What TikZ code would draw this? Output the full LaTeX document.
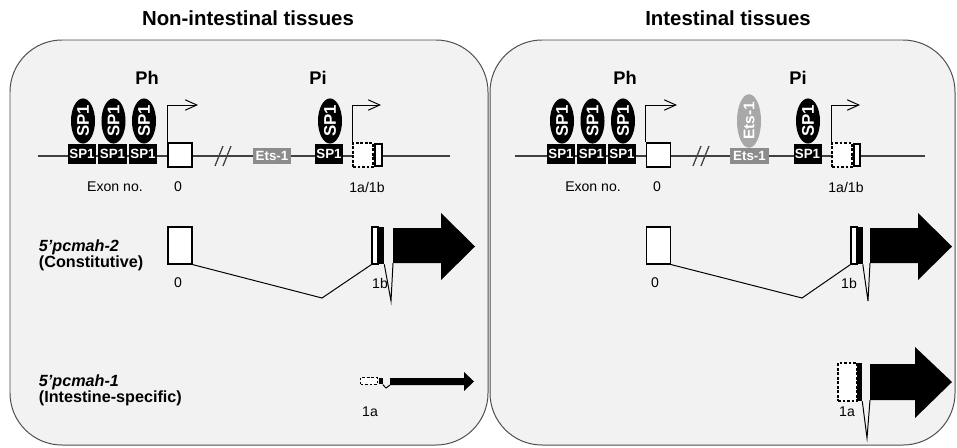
\documentclass[tikz,border=0pt]{standalone}
\usepackage{fontspec}
\setmainfont{Liberation Sans}
\usetikzlibrary{shapes.geometric,arrows.meta}
\definecolor{etsbox}{HTML}{8C8C8C}
\definecolor{etsfac}{HTML}{A8A8A8}
\tikzset{
  panel/.style={draw=black!70, fill=black!5, line width=0.7pt, rounded corners=1.3cm},
  title/.style={font=\fontsize{14.5}{17}\selectfont\bfseries},
  prom/.style={font=\fontsize{13}{15}\selectfont\bfseries},
  lbl/.style={font=\fontsize{10}{12}\selectfont},
  tname/.style={anchor=west, align=left, font=\fontsize{11.5}{11.5}\selectfont\bfseries},
  site/.style={fill=black, text=white, inner sep=0pt, minimum width=0.72cm, minimum height=0.5cm, font=\fontsize{9.5}{11}\selectfont\bfseries},
  factor/.style={ellipse, fill=black, text=white, inner sep=0pt, minimum width=1.12cm, minimum height=0.6cm, rotate=90, font=\fontsize{12}{14}\selectfont\bfseries},
  etssite/.style={site, fill=etsbox, minimum width=0.97cm, minimum height=0.4cm},
  etsfactor/.style={factor, fill=etsfac, font=\fontsize{11}{13}\selectfont\bfseries},
  exon/.style={draw, fill=white, line width=0.8pt, inner sep=0pt},
  dexon/.style={exon, dash pattern=on 1.8pt off 1.4pt},
  strip/.style={draw, fill=white, line width=1.6pt, inner sep=0pt, minimum width=0.16cm, minimum height=0.54cm},
  kstrip/.style={fill=black, inner sep=0pt},
  dna/.style={draw=black!75, line width=0.9pt},
  tss/.style={-{Straight Barb[length=2.9mm,width=2.6mm]}, line width=0.7pt},
  splice/.style={line width=0.7pt},
}
\begin{document}
\begin{tikzpicture}[x=0.025cm, y=-0.025cm]
\useasboundingbox (0,0) rectangle (957,447);
%		panels
\draw[panel] (10,40) rectangle (488,445);
\draw[panel] (490,40) rectangle (955,445);
\node[title] (Ltitle) at (248,18) {Non-intestinal tissues};
\node[title] (Rtitle) at (728,18) {Intestinal tissues};
%		left top
\node[prom] (Lph) at (147,78) {Ph};
\node[prom] (Lpi) at (318,78) {Pi};
\coordinate (Lstart) at (38,156);
\coordinate (Lend) at (450,156);
\draw[dna] (Lstart) -- (Lend);
\draw[dna] (215,166) -- (223,146);
\draw[dna] (223,166) -- (231,146);
\node[site] (Ls1) at (82,154) {SP1};
\node[site] (Ls2) at (112.5,154) {SP1};
\node[site] (Ls3) at (143,154) {SP1};
\node[factor] (Lf1) at (83,121) {SP1};
\node[factor] (Lf2) at (113.5,121) {SP1};
\node[factor] (Lf3) at (144,121) {SP1};
\node[exon, minimum width=0.6cm, minimum height=0.6cm] (Lx0) at (180,155) {};
\coordinate (Ltss0) at (198,105);
\draw[tss] (Lx0.north west) |- (Ltss0);
\node[etssite] (Lets) at (272,156) {Ets-1};
\node[site, minimum width=0.7cm] (Ls4) at (329,154) {SP1};
\node[factor] (Lf4) at (330,121) {SP1};
\node[dexon, minimum width=0.5cm, minimum height=0.6cm] (Lx1) at (363,155) {};
\node[strip] (Lx1k) at (378.5,155) {};
\coordinate (Ltss1) at (381,105);
\draw[tss] (Lx1.north west) |- (Ltss1);
\node[lbl] (Lexno) at (115,187) {Exon no.};
\node[lbl] (Ll0) at (178,187) {0};
\node[lbl] (Ll1) at (367,187) {1a/1b};
%		left middle
\node[tname] (Ln2) at (34,255) {\textit{5’pcmah-2}\\(Constitutive)};
\node[exon, minimum width=0.6cm, minimum height=0.925cm] (Lm0) at (180,245.5) {};
\node[lbl] (Lm0l) at (178,283) {0};
\node[exon, minimum width=0.15cm, minimum height=0.925cm] (Lm1w) at (375,245.5) {};
\node[kstrip, minimum width=0.15cm, minimum height=0.925cm] (Lm1k) at (381,245.5) {};
\node[lbl] (Lm1l) at (380,283) {1b};
\coordinate (Lmlow) at (322,298);
\draw[splice] (Lm0.south east) -- (Lmlow) -- (Lm1w.south west);
\coordinate (Lmv) at (391,301);
\coordinate (Lmarr) at (393,263);
\draw[splice] (Lm1k.south east) -- (Lmv) -- (Lmarr);
\fill (393,228) -- (441,228) -- (441,213) -- (475,246.5) -- (441,280) -- (441,263) -- (Lmarr) -- cycle;
%		left bottom
\node[tname] (Ln1) at (34,390) {\textit{5’pcmah-1}\\(Intestine-specific)};
\node[dexon, minimum width=0.42cm, minimum height=0.17cm] (Lb1) at (369,381) {};
\node[kstrip, minimum width=0.1cm, minimum height=0.17cm] (Lb1k) at (380.5,381) {};
\node[lbl] (Lb1l) at (370,412) {1a};
\coordinate (Lbv) at (386,388);
\coordinate (Lbarr) at (390,385);
\draw[splice] (Lb1k.south east) -- (Lbv) -- (Lbarr);
\fill (390,378) -- (464,378) -- (464,372) -- (474,381.5) -- (464,391) -- (464,385) -- (Lbarr) -- cycle;
%		right top
\node[prom] (Rph) at (625,78) {Ph};
\node[prom] (Rpi) at (798,78) {Pi};
\coordinate (Rstart) at (515,156);
\coordinate (Rend) at (925,156);
\draw[dna] (Rstart) -- (Rend);
\draw[dna] (693,166) -- (701,146);
\draw[dna] (701,166) -- (709,146);
\node[site] (Rs1) at (561,154) {SP1};
\node[site] (Rs2) at (591.5,154) {SP1};
\node[site] (Rs3) at (622,154) {SP1};
\node[factor] (Rf1) at (562,121) {SP1};
\node[factor] (Rf2) at (592.5,121) {SP1};
\node[factor] (Rf3) at (623,121) {SP1};
\node[exon, minimum width=0.6cm, minimum height=0.6cm] (Rx0) at (658.5,155) {};
\coordinate (Rtss0) at (677,105);
\draw[tss] (Rx0.north west) |- (Rtss0);
\node[etssite] (Rets) at (749.5,156) {Ets-1};
\node[etsfactor] (Rfe) at (749,121) {Ets-1};
\node[site, minimum width=0.7cm] (Rs4) at (807.5,154) {SP1};
\node[factor] (Rf4) at (808,121) {SP1};
\node[dexon, minimum width=0.5cm, minimum height=0.6cm] (Rx1) at (842,155) {};
\node[strip] (Rx1k) at (857,155) {};
\coordinate (Rtss1) at (860,105);
\draw[tss] (Rx1.north west) |- (Rtss1);
\node[lbl] (Rexno) at (593,187) {Exon no.};
\node[lbl] (Rl0) at (657,187) {0};
\node[lbl] (Rl1) at (846,187) {1a/1b};
%		right middle
\node[exon, minimum width=0.6cm, minimum height=0.925cm] (Rm0) at (658.5,245.5) {};
\node[lbl] (Rm0l) at (655,283) {0};
\node[exon, minimum width=0.15cm, minimum height=0.925cm] (Rm1w) at (854,245.5) {};
\node[kstrip, minimum width=0.15cm, minimum height=0.925cm] (Rm1k) at (859.5,245.5) {};
\node[lbl] (Rm1l) at (849,283) {1b};
\coordinate (Rmlow) at (802,298);
\draw[splice] (Rm0.south east) -- (Rmlow) -- (Rm1w.south west);
\coordinate (Rmv) at (868,301);
\coordinate (Rmarr) at (870,263);
\draw[splice] (Rm1k.south east) -- (Rmv) -- (Rmarr);
\fill (870,228) -- (918,228) -- (918,213) -- (952,246.5) -- (918,280) -- (918,263) -- (Rmarr) -- cycle;
%		right bottom
\node[dexon, minimum width=0.475cm, minimum height=0.95cm] (Rb1) at (847.5,382) {};
\node[kstrip, minimum width=0.125cm, minimum height=0.95cm] (Rb1k) at (859.5,382) {};
\node[lbl] (Rb1l) at (847,412) {1a};
\coordinate (Rbv) at (867,438);
\coordinate (Rbarr) at (870,400);
\draw[splice] (Rb1k.south east) -- (Rbv) -- (Rbarr);
\fill (870,364) -- (915,364) -- (915,347) -- (952,382) -- (915,418) -- (915,400) -- (Rbarr) -- cycle;
\end{tikzpicture}
\end{document}
